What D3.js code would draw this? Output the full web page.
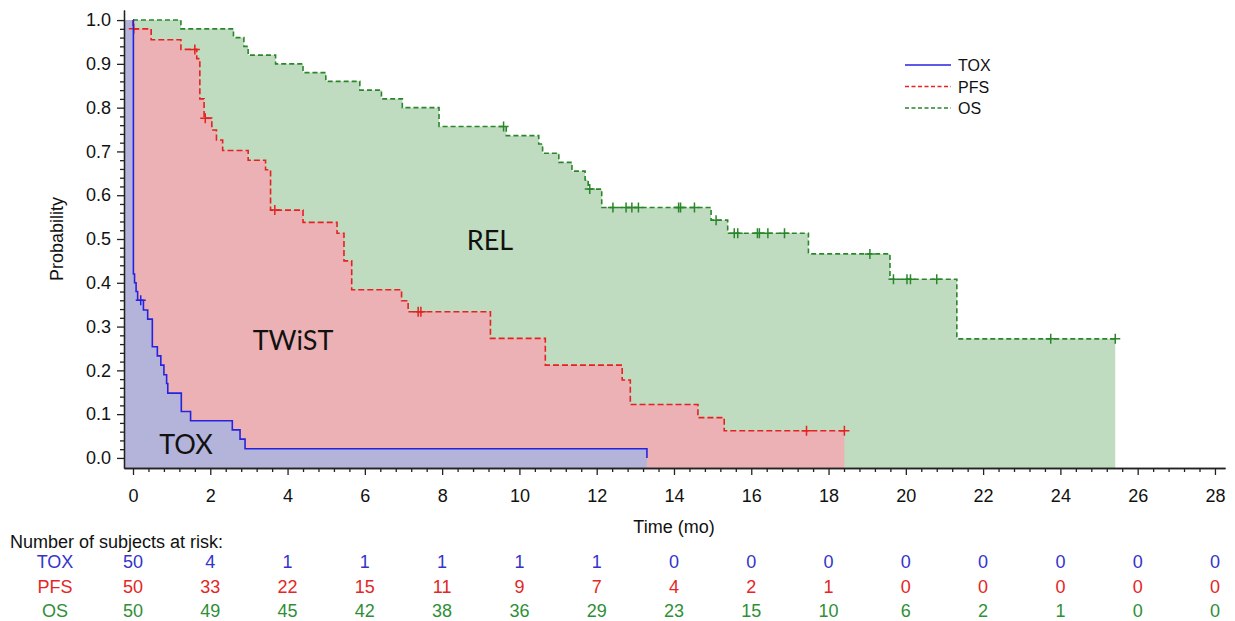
<!DOCTYPE html>
<html>
<head>
<meta charset="utf-8">
<script src="https://cdn.jsdelivr.net/npm/d3@7"></script>
<style>
  body { margin: 0; background: #fff; }
  svg { display: block; font-family: "Liberation Sans", Arial, sans-serif; }
</style>
</head>
<body>
<svg id="chart" width="1235" height="621"></svg>
<script>
(function () {

  // ---- data -----------------------------------------------------
  // TOX: time of each step and the probability after it
  const TOX_T = [0, 0.01, 0.04, 0.08, 0.12, 0.27, 0.38, 0.50, 0.63, 0.72, 0.80, 0.87, 0.90, 1.25, 1.49, 2.57, 2.77, 2.90, 13.30];
  const TOX_S = [1.0, 0.42, 0.40, 0.38, 0.36, 0.338, 0.317, 0.254, 0.233, 0.212, 0.19, 0.17, 0.148, 0.106, 0.085, 0.064, 0.043, 0.021, 0.0];
  const TOX_CENSOR = [0.2];
  const TOX_END = 13.30;

  const PFS_T = [0, 0, 0.47, 1.24, 1.65, 1.73, 1.84, 2.04, 2.16, 2.32, 2.98, 3.43, 3.56, 4.40, 5.28, 5.46, 5.66, 6.95, 7.12, 9.25, 10.67, 12.66, 12.87, 14.62, 15.30];
  const PFS_S = [1.0, 0.98, 0.955, 0.933, 0.912, 0.82, 0.776, 0.749, 0.726, 0.702, 0.680, 0.658, 0.566, 0.538, 0.513, 0.45, 0.384, 0.359, 0.334, 0.273, 0.212, 0.178, 0.122, 0.092, 0.062];
  const PFS_CENSOR = [0.02, 1.60, 1.87, 3.67, 7.38, 7.45, 17.43, 18.41];
  const PFS_END = 18.41;

  const OS_T = [0, 1.24, 2.60, 2.87, 2.98, 3.69, 4.40, 4.99, 5.87, 6.43, 6.97, 7.92, 9.66, 10.50, 10.60, 11.02, 11.36, 11.70, 11.78, 12.13, 14.96, 15.39, 17.48, 19.59, 21.32];
  const OS_S = [1.0, 0.98, 0.96, 0.94, 0.92, 0.90, 0.88, 0.86, 0.84, 0.82, 0.80, 0.757, 0.736, 0.717, 0.696, 0.675, 0.655, 0.635, 0.614, 0.572, 0.543, 0.513, 0.466, 0.408, 0.272];
  const OS_CENSOR = [9.59, 11.82, 12.42, 12.76, 12.91, 13.08, 14.12, 14.17, 14.53, 15.09, 15.56, 15.65, 16.16, 16.21, 16.43, 16.86, 19.07, 19.68, 20.03, 20.12, 20.80, 23.75, 25.42];
  const OS_END = 25.42;

  // number at risk, one value per x tick (0, 2, ... 28)
  const RISK_TIMES = d3.range(0, 29, 2);
  const TOX_RISK = [50, 4, 1, 1, 1, 1, 1, 0, 0, 0, 0, 0, 0, 0, 0];
  const PFS_RISK = [50, 33, 22, 15, 11, 9, 7, 4, 2, 1, 0, 0, 0, 0, 0];
  const OS_RISK = [50, 49, 45, 42, 38, 36, 29, 23, 15, 10, 6, 2, 1, 0, 0];

  const Y_TICKS = d3.range(0, 11).map(i => i / 10);

  const CURVES = [
    { name: "OS",  T: OS_T,  S: OS_S,  censor: OS_CENSOR,  end: OS_END,
      line: "#2a862a", fill: "#bfdcc0", dash: "5,3", text: "#2f8f37", risk: OS_RISK },
    { name: "PFS", T: PFS_T, S: PFS_S, censor: PFS_CENSOR, end: PFS_END,
      line: "#e32222", fill: "#ecb1b4", dash: "6,3", text: "#e32626", risk: PFS_RISK },
    { name: "TOX", T: TOX_T, S: TOX_S, censor: TOX_CENSOR, end: TOX_END,
      line: "#2424e0", fill: "#b4b4da", dash: null, text: "#3434cc", risk: TOX_RISK }
  ];

  // ---- scales ----------------------------------------------------
  const svg = d3.select("#chart");
  const x = d3.scaleLinear().domain([-0.233, 28.26]).range([124, 1225]);
  const y = d3.scaleLinear().domain([-0.023, 1.023]).range([468, 10]);

  function survAt(c, t) {
    let s = c.S[0];
    for (let i = 0; i < c.T.length; i++) if (c.T[i] <= t) s = c.S[i];
    return s;
  }

  // ---- fills (stacked: OS, PFS, TOX) -----------------------------
  const area = d3.area()
    .curve(d3.curveStepAfter)
    .x(d => x(d[0]))
    .y0(y(-0.023))
    .y1(d => y(d[1]));

  CURVES.forEach(c => {
    const pts = [[-0.233, c.S[0]]].concat(c.T.map((t, i) => [t, c.S[i]]));
    if (c.end > c.T[c.T.length - 1]) pts.push([c.end, c.S[c.S.length - 1]]);
    svg.append("path")
      .attr("d", area(pts))
      .attr("fill", c.fill);
  });

  // ---- step lines + censor marks ---------------------------------
  const line = d3.line()
    .curve(d3.curveStepAfter)
    .x(d => x(d[0]))
    .y(d => y(d[1]));

  CURVES.forEach(c => {
    const pts = c.T.map((t, i) => [t, c.S[i]]);
    if (c.end > c.T[c.T.length - 1]) pts.push([c.end, c.S[c.S.length - 1]]);
    svg.append("path")
      .attr("d", line(pts))
      .attr("fill", "none")
      .attr("stroke", c.line)
      .attr("stroke-width", 1.6)
      .attr("stroke-dasharray", c.dash);

    svg.append("g").selectAll("path")
      .data(c.censor)
      .enter()
      .append("path")
      .attr("d", t => {
        const cx = x(t), cy = y(survAt(c, t));
        return `M${cx - 5},${cy}H${cx + 5}M${cx},${cy - 5}V${cy + 5}`;
      })
      .attr("stroke", c.line)
      .attr("stroke-width", 1.5);
  });

  // ---- axes ------------------------------------------------------
  const xMinor = d3.range(0, 71).filter(i => i % 5 !== 0).map(i => i * 0.4);
  const yMinor = d3.range(0, 51).filter(i => i % 5 !== 0).map(i => i / 50);

  const xAxis = svg.append("g")
    .attr("transform", `translate(0,${y(-0.023)})`)
    .call(d3.axisBottom(x).tickValues(RISK_TIMES).tickSize(7).tickSizeOuter(0).tickPadding(14));
  svg.append("g")
    .attr("transform", `translate(0,${y(-0.023)})`)
    .call(d3.axisBottom(x).tickValues(xMinor).tickSize(4).tickSizeOuter(0).tickFormat(""));

  const yAxis = svg.append("g")
    .attr("transform", `translate(${x(-0.233)},0)`)
    .call(d3.axisLeft(y).tickValues(Y_TICKS).tickFormat(d3.format(".1f")).tickSize(7).tickSizeOuter(0).tickPadding(6));
  svg.append("g")
    .attr("transform", `translate(${x(-0.233)},0)`)
    .call(d3.axisLeft(y).tickValues(yMinor).tickSize(4).tickSizeOuter(0).tickFormat(""));

  svg.selectAll(".domain, .tick line").attr("stroke", "#222").attr("stroke-width", 1.3);
  svg.selectAll(".tick text").attr("fill", "#111").style("font-size", "18px").style("font-family", "Liberation Sans, Arial, sans-serif");

  svg.append("text")
    .attr("transform", `translate(63,${(y(0) + y(1)) / 2}) rotate(-90)`)
    .attr("text-anchor", "middle")
    .style("font-size", "18px")
    .attr("fill", "#111")
    .text("Probability");

  svg.append("text")
    .attr("x", 674)
    .attr("y", 533)
    .attr("text-anchor", "middle")
    .style("font-size", "18px")
    .attr("fill", "#111")
    .text("Time (mo)");

  // ---- region labels ---------------------------------------------
  const labels = [["REL", 490, 250], ["TWiST", 293, 350], ["TOX", 186, 454]];
  svg.append("g").selectAll("text")
    .data(labels)
    .enter()
    .append("text")
    .attr("x", d => d[0] && d[1])
    .attr("y", d => d[2])
    .attr("text-anchor", "middle")
    .style("font-family", "Lato, 'Open Sans', sans-serif")
    .style("font-size", "27px")
    .attr("fill", "#111")
    .text(d => d[0]);

  // ---- legend ----------------------------------------------------
  const legend = svg.append("g").attr("transform", "translate(905,65)");
  CURVES.slice().reverse().forEach((c, i) => {
    const row = legend.append("g").attr("transform", `translate(0,${i * 21.5})`);
    row.append("line")
      .attr("x1", 0).attr("x2", 46)
      .attr("stroke", c.line)
      .attr("stroke-width", 1.6)
      .attr("stroke-dasharray", c.dash ? "4,2.5" : null);
    row.append("text")
      .attr("x", 53)
      .attr("y", 6)
      .style("font-size", "16px")
      .attr("fill", "#111")
      .text(c.name);
  });

  // ---- number at risk table --------------------------------------
  svg.append("text")
    .attr("x", 10)
    .attr("y", 548)
    .style("font-size", "18px")
    .attr("fill", "#111")
    .text("Number of subjects at risk:");

  CURVES.slice().reverse().forEach((c, i) => {
    const yy = 568 + i * 24.5;
    svg.append("text")
      .attr("x", 55)
      .attr("y", yy)
      .attr("text-anchor", "middle")
      .style("font-size", "18px")
      .attr("fill", c.text)
      .text(c.name);
    svg.append("g").selectAll("text")
      .data(c.risk)
      .enter()
      .append("text")
      .attr("x", (d, j) => x(RISK_TIMES[j]))
      .attr("y", yy)
      .attr("text-anchor", "middle")
      .style("font-size", "18px")
      .attr("fill", c.text)
      .text(d => d);
  });

})();
</script>
</body>
</html>
